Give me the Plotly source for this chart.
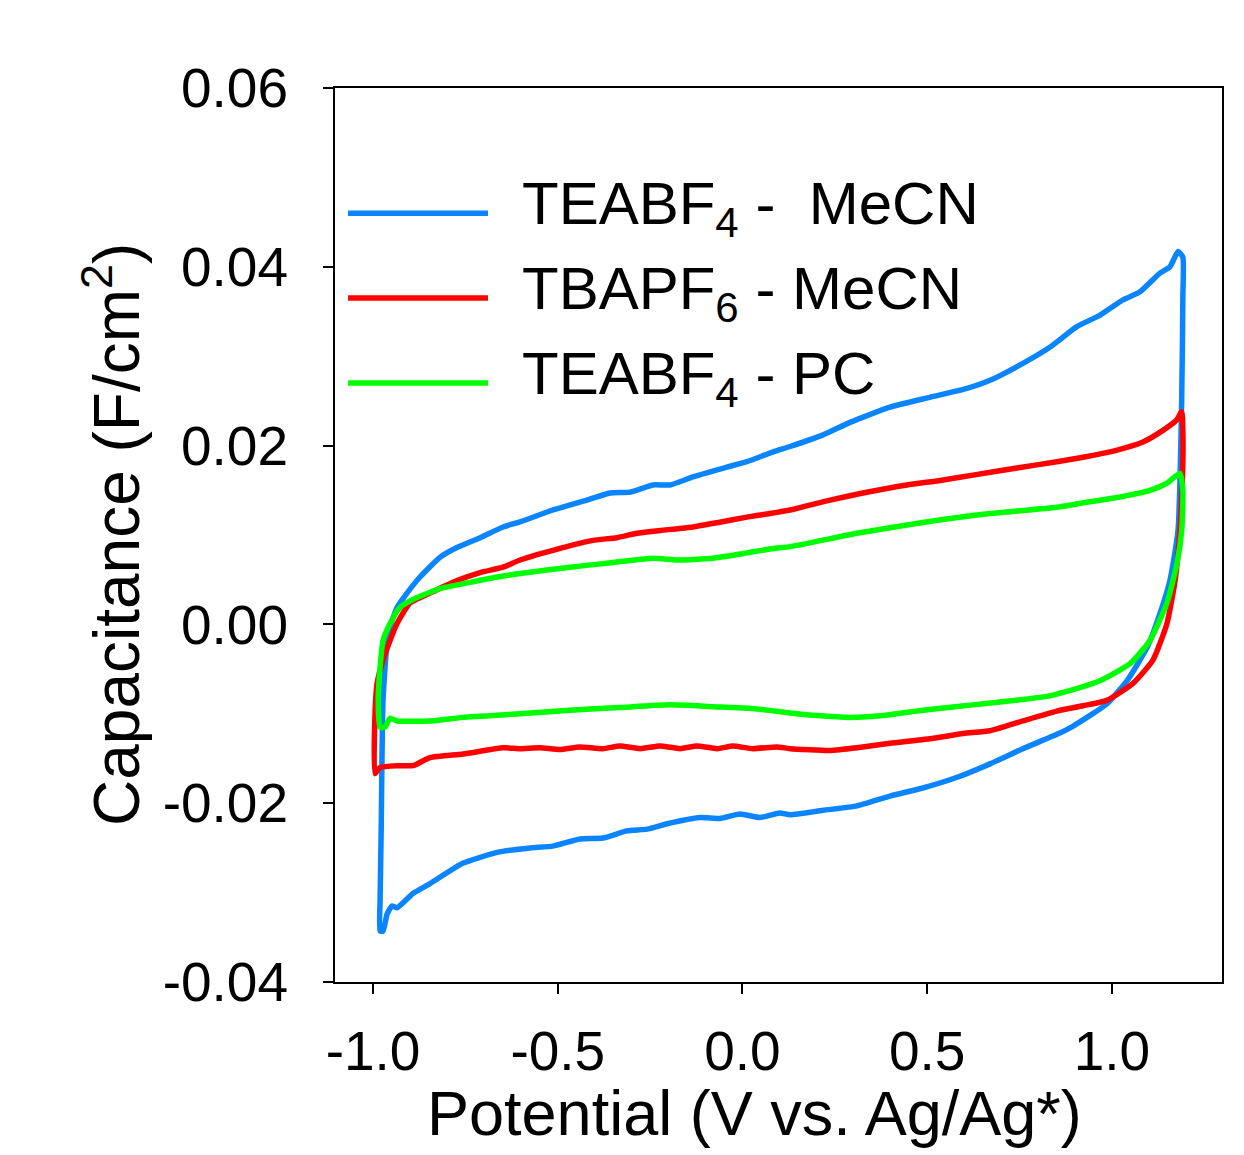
import plotly.graph_objects as go

# ---------------- data ----------------
potential_teabf4_mecn = [
    -0.981, -0.981, -0.978, -0.973, -0.959, -0.935, -0.908, -0.873, -0.819, -0.773,
    -0.710, -0.648, -0.600, -0.513, -0.421, -0.359, -0.304, -0.242, -0.196, -0.134,
    -0.042, 0.012, 0.083, 0.129, 0.218, 0.291, 0.399, 0.507, 0.608, 0.670,
    0.759, 0.832, 0.905, 0.968, 1.030, 1.076, 1.130, 1.157, 1.179, 1.192,
    1.192, 1.189, 1.179, 1.157, 1.130, 1.095, 1.041, 0.986, 0.894, 0.851,
    0.759, 0.670, 0.581, 0.488, 0.399, 0.310, 0.218, 0.129, 0.101, 0.047,
    -0.007, -0.061, -0.115, -0.204, -0.258, -0.313, -0.378, -0.440, -0.513, -0.575,
    -0.664, -0.756, -0.846, -0.892, -0.935, -0.949, -0.962, -0.973, -0.981,
]
cap_teabf4_mecn = [
    -0.0343, -0.0309, -0.0231, -0.0085, -0.0010, 0.0019, 0.0035, 0.0053, 0.0075, 0.0086,
    0.0097, 0.0109, 0.0115, 0.0128, 0.0139, 0.0147, 0.0148, 0.0156, 0.0156, 0.0165,
    0.0176, 0.0182, 0.0193, 0.0199, 0.0212, 0.0226, 0.0243, 0.0254, 0.0264, 0.0273,
    0.0292, 0.0310, 0.0333, 0.0346, 0.0363, 0.0372, 0.0393, 0.0400, 0.0417, 0.0411,
    0.0366, 0.0254, 0.0105, 0.0049, 0.0012, -0.0026, -0.0063, -0.0089, -0.0114, -0.0123,
    -0.0139, -0.0156, -0.0171, -0.0183, -0.0192, -0.0203, -0.0208, -0.0213, -0.0211, -0.0216,
    -0.0212, -0.0217, -0.0216, -0.0223, -0.0229, -0.0231, -0.0239, -0.0240, -0.0248, -0.0250,
    -0.0255, -0.0267, -0.0290, -0.0301, -0.0317, -0.0315, -0.0324, -0.0343, -0.0343,
]

potential_tbapf6_mecn = [
    -0.995, -0.995, -0.989, -0.973, -0.954, -0.935, -0.900, -0.846, -0.773, -0.710,
    -0.648, -0.602, -0.494, -0.405, -0.340, -0.286, -0.223, -0.134, -0.065,
    0.012, 0.074, 0.129, 0.237, 0.326, 0.445, 0.535, 0.624, 0.743, 0.851,
    0.922, 1.014, 1.084, 1.138, 1.176, 1.189, 1.192, 1.192, 1.184, 1.171,
    1.149, 1.111, 1.057, 0.986, 0.922, 0.851, 0.759, 0.670, 0.597, 0.507,
    0.399, 0.310, 0.237, 0.129, 0.093, 0.028, -0.026, -0.069, -0.123, -0.169,
    -0.223, -0.277, -0.332, -0.378, -0.440, -0.494, -0.548, -0.602, -0.648, -0.756,
    -0.846, -0.892, -0.935, -0.981, -0.995,
]
cap_tbapf6_mecn = [
    -0.0167, -0.0104, -0.0066, -0.0040, -0.0018, 0.0001, 0.0024, 0.0035, 0.0049, 0.0058,
    0.0064, 0.0072, 0.0085, 0.0094, 0.0097, 0.0102, 0.0105, 0.0109, 0.0114,
    0.0120, 0.0124, 0.0128, 0.0139, 0.0147, 0.0156, 0.0161, 0.0167, 0.0175, 0.0182,
    0.0187, 0.0195, 0.0204, 0.0217, 0.0229, 0.0238, 0.0217, 0.0180, 0.0105, 0.0049,
    0.0001, -0.0040, -0.0066, -0.0085, -0.0091, -0.0097, -0.0108, -0.0119, -0.0122, -0.0128,
    -0.0133, -0.0138, -0.0141, -0.0139, -0.0137, -0.0139, -0.0136, -0.0139, -0.0136, -0.0139,
    -0.0136, -0.0139, -0.0136, -0.0139, -0.0137, -0.0140, -0.0138, -0.0139, -0.0138, -0.0145,
    -0.0149, -0.0158, -0.0158, -0.0160, -0.0167,
]

potential_teabf4_pc = [
    -0.981, -0.986, -0.981, -0.973, -0.954, -0.927, -0.881, -0.819, -0.737, -0.664,
    -0.602, -0.467, -0.378, -0.242, -0.177, -0.080, 0.012, 0.083, 0.129, 0.310,
    0.488, 0.670, 0.851, 0.922, 1.014, 1.103, 1.149, 1.184, 1.192, 1.189,
    1.176, 1.149, 1.103, 1.049, 0.968, 0.878, 0.832, 0.759, 0.624, 0.488,
    0.399, 0.291, 0.202, 0.129, 0.028, -0.080, -0.196, -0.332, -0.467, -0.602,
    -0.756, -0.846, -0.935, -0.954, -0.968, -0.981,
]
cap_teabf4_pc = [
    -0.0115, -0.0085, -0.0048, -0.0018, 0.0001, 0.0019, 0.0030, 0.0040, 0.0047, 0.0053,
    0.0057, 0.0064, 0.0068, 0.0074, 0.0072, 0.0074, 0.0080, 0.0085, 0.0087, 0.0102,
    0.0114, 0.0124, 0.0131, 0.0136, 0.0142, 0.0150, 0.0158, 0.0169, 0.0150, 0.0105,
    0.0068, 0.0024, -0.0018, -0.0044, -0.0063, -0.0075, -0.0080, -0.0084, -0.0090, -0.0096,
    -0.0101, -0.0104, -0.0102, -0.0099, -0.0094, -0.0092, -0.0090, -0.0093, -0.0096, -0.0100,
    -0.0104, -0.0108, -0.0108, -0.0105, -0.0115, -0.0115,
]

series_names = ["TEABF<sub>4</sub> -&nbsp; MeCN", "TBAPF<sub>6</sub> - MeCN", "TEABF<sub>4</sub> - PC"]
series_colors = ["#0A84FF", "#FF0000", "#00FF00"]
x_tick_vals = [-1.0, -0.5, 0.0, 0.5, 1.0]
x_tick_text = ["-1.0", "-0.5", "0.0", "0.5", "1.0"]
y_tick_vals = [-0.04, -0.02, 0.00, 0.02, 0.04, 0.06]
y_tick_text = ["-0.04", "-0.02", "0.00", "0.02", "0.04", "0.06"]

FONT = "Liberation Sans, Arial, sans-serif"

fig = go.Figure()
all_x = [potential_teabf4_mecn, potential_tbapf6_mecn, potential_teabf4_pc]
all_y = [cap_teabf4_mecn, cap_tbapf6_mecn, cap_teabf4_pc]
for xs, ys, name, col in zip(all_x, all_y, series_names, series_colors):
    fig.add_trace(go.Scatter(x=xs, y=ys, mode="lines", name=name,
                             line=dict(color=col, width=5.5, shape="spline", smoothing=0.5),
                             showlegend=False))

# legend drawn manually (long line samples)
legend_y = [0.860, 0.765, 0.670]
for name, col, ly in zip(series_names, series_colors, legend_y):
    fig.add_shape(type="line", xref="paper", yref="paper", x0=0.0147, x1=0.1725,
                  y0=ly, y1=ly, line=dict(color=col, width=5.5))
    fig.add_annotation(xref="paper", yref="paper", x=0.2086, y=ly + 0.006, text=name,
                       showarrow=False, xanchor="left", yanchor="middle",
                       font=dict(family=FONT, size=60, color="black"))

fig.add_annotation(xref="paper", yref="paper", x=0.4724, y=-0.1465,
                   text="Potential (V vs. Ag/Ag*)", showarrow=False,
                   xanchor="center", yanchor="middle",
                   font=dict(family=FONT, size=63, color="black"))
fig.add_annotation(xref="paper", yref="paper", x=-0.2514, y=0.5,
                   text="Capacitance (F/cm<sup>2</sup>)", showarrow=False, textangle=-90,
                   xanchor="center", yanchor="middle",
                   font=dict(family=FONT, size=64, color="black"))

fig.update_xaxes(range=[-1.103, 1.298], tickvals=x_tick_vals, ticktext=x_tick_text,
                 ticks="outside", ticklen=10, tickwidth=2, tickcolor="black",
                 showline=True, linecolor="black", linewidth=2, mirror=True,
                 showgrid=False, zeroline=False, ticklabelstandoff=10,
                 tickfont=dict(family=FONT, size=55, color="black"))
fig.update_yaxes(range=[-0.04, 0.06], tickvals=y_tick_vals, ticktext=y_tick_text,
                 ticks="outside", ticklen=10, tickwidth=2, tickcolor="black",
                 showline=True, linecolor="black", linewidth=2, mirror=True,
                 showgrid=False, zeroline=False, ticklabelstandoff=24,
                 tickfont=dict(family=FONT, size=55, color="black"))

fig.update_layout(width=1244, height=1155,
                  margin=dict(l=335, r=22, t=88, b=173),
                  paper_bgcolor="white", plot_bgcolor="white",
                  font=dict(family=FONT))

fig.write_html("out.html")
